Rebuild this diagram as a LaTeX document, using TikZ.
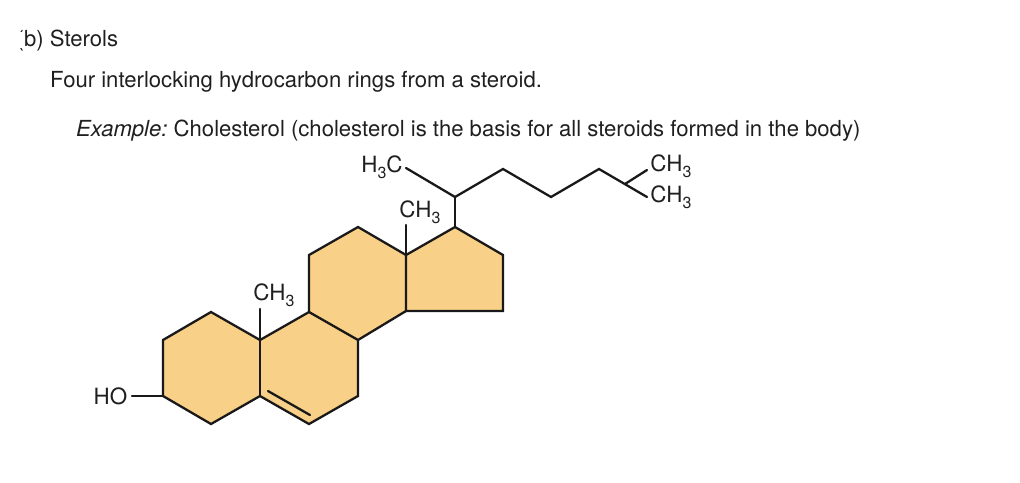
\documentclass[tikz,border=0pt]{standalone}
\usepackage{fontspec}
\setmainfont{TeX Gyre Heros}
\usepackage{tikz}
\usetikzlibrary{positioning}
\usetikzlibrary{calc}
\definecolor{ringfill}{HTML}{F9D087}
\newcommand{\subthree}{\raisebox{-0.28em}{\fontsize{16}{16}\selectfont 3}}

\begin{document}
\begin{tikzpicture}[x=1pt, y=-1pt,
        textline/.style={anchor=base west, inner sep=0pt, text=black!88, font=\fontsize{22.1}{26}\selectfont},
        group/.style={inner sep=0pt, text=black!88, font=\fontsize{22.4}{26}\selectfont},
        ring/.style={fill=ringfill, draw=none},
        bond/.style={draw=black!90, line width=2.3pt, line join=miter, line cap=round}]
        \useasboundingbox (0,0) rectangle (1020,482);

        \node[textline] (title) at (16.5,46) {(b) Sterols};
        \fill[white] (10,31.5) rectangle (23,47.5);
        \node[textline] (intro) at (50,87) {Four interlocking hydrocarbon rings from a steroid.};
        \node[textline] (example) at (76,136) {\textit{Example:}\kern-2pt{} Cholesterol (cholesterol is the basis for all steroids formed in the body)};

        \coordinate (c1) at (211,312);
        \coordinate (c2) at (163,340);
        \coordinate (c3) at (163,396);
        \coordinate (c4) at (211,424);
        \coordinate (c5) at (260,396);
        \coordinate (c6) at (309,424);
        \coordinate (c7) at (358,396);
        \coordinate (c8) at (358,340);
        \coordinate (c9) at (309,312);
        \coordinate (c10) at (260,340);
        \coordinate (c11) at (309,255);
        \coordinate (c12) at (358,227);
        \coordinate (c13) at (406,255);
        \coordinate (c14) at (406,311);
        \coordinate (c15) at (503,311);
        \coordinate (c16) at (503,255);
        \coordinate (c17) at (455,227);
        \coordinate (c20) at (455,197);
        \coordinate (c22) at (503,169);
        \coordinate (c23) at (551,197);
        \coordinate (c24) at (599,169);
        \coordinate (c25) at (625,184);

        \coordinate (dbl1) at (268,391);
        \coordinate (dbl2) at (310,415);

        \fill[ring] (c1) -- (c2) -- (c3) -- (c4) -- (c5) -- (c6) -- (c7) -- (c8) -- (c14) -- (c15) -- (c16) -- (c17) -- (c13) -- (c12) -- (c11) -- (c9) -- (c10) -- cycle;

        \node[group] (ho) at (110.5,396) {HO};
        \node[group] (ch3a) at (274,295) {CH\subthree};
        \node[group] (ch3b) at (420,212) {CH\subthree};
        \node[group] (h3c) at (382,167) {H\subthree C};
        \node[group] (ch3c) at (671,166) {CH\subthree};
        \node[group] (ch3d) at (671,197) {CH\subthree};

        \coordinate (endho) at (132,396);
        \coordinate (enda) at (260,309);
        \coordinate (endb) at (406,225);
        \coordinate (endh) at (406,168);
        \coordinate (endc) at (647,170);
        \coordinate (endd) at (647,197);

        \draw[bond] (c1) -- (c2) -- (c3) -- (c4) -- (c5) -- (c6) -- (c7) -- (c8) -- (c9) -- (c10) -- cycle;
        \draw[bond] (c10) -- (c5);
        \draw[bond] (c9) -- (c11) -- (c12) -- (c13) -- (c14) -- (c8);
        \draw[bond] (c13) -- (c17) -- (c16) -- (c15) -- (c14);
        \draw[bond] (dbl1) -- (dbl2);
        \draw[bond] (endho) -- (c3);
        \draw[bond] (enda) -- (c10);
        \draw[bond] (endb) -- (c13);
        \draw[bond] (c17) -- (c20);
        \draw[bond] (endh) -- (c20) -- (c22) -- (c23) -- (c24) -- (endd);
        \draw[bond] (c25) -- (endc);
    \end{tikzpicture}
\end{document}
